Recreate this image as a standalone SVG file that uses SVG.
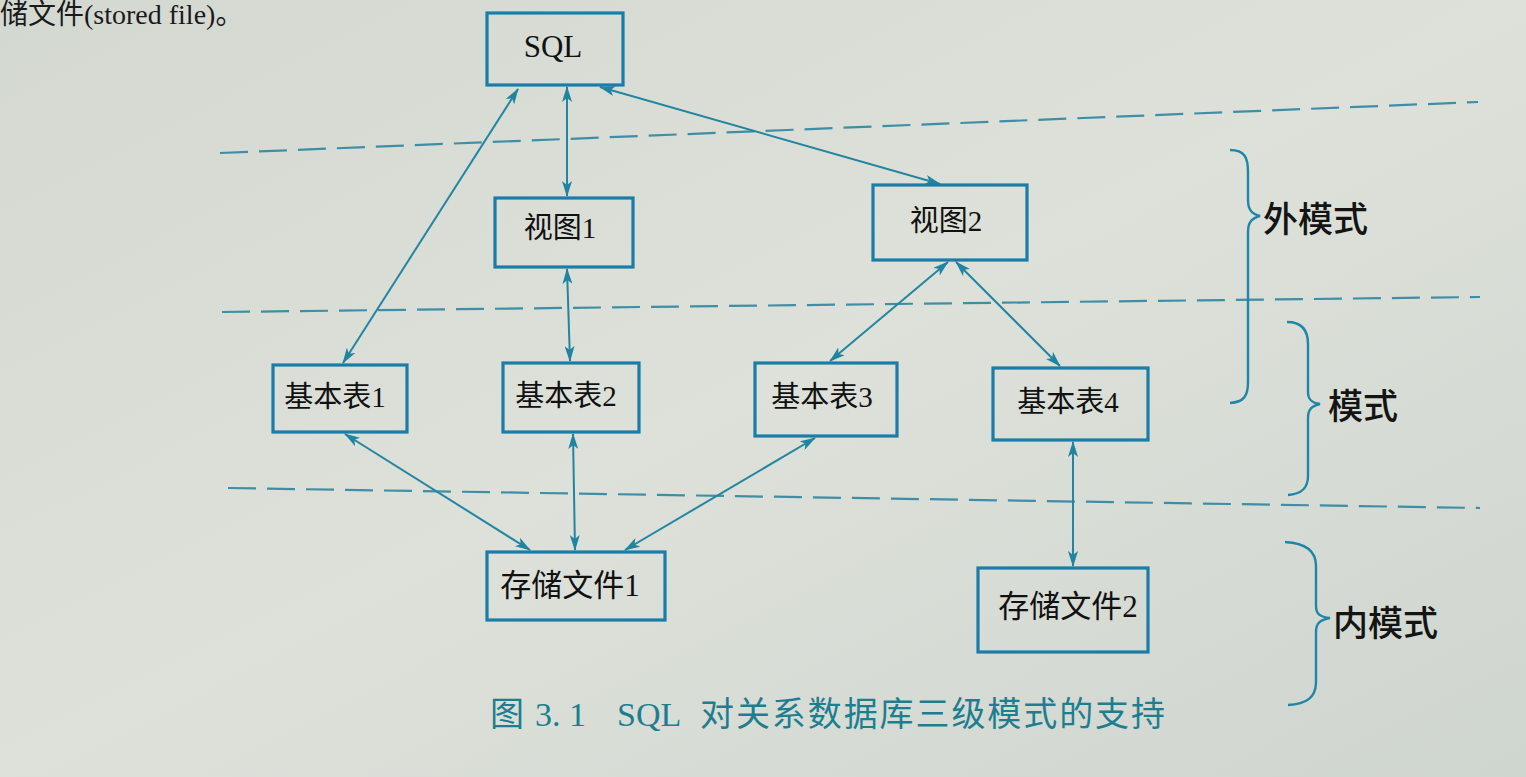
<svg xmlns="http://www.w3.org/2000/svg" width="1526" height="777" viewBox="0 0 1526 777">
<defs>
<linearGradient id="bg" x1="0" y1="0" x2="1" y2="1">
<stop offset="0" stop-color="#d3d8d1"/>
<stop offset="0.5" stop-color="#dde1da"/>
<stop offset="1" stop-color="#cfd5cf"/>
</linearGradient>
<marker id="ah" viewBox="0 0 16 10" refX="15" refY="5" markerWidth="16" markerHeight="10" markerUnits="userSpaceOnUse" orient="auto-start-reverse">
<path d="M0,0 L16,5 L0,10 L4,5 Z" fill="#1f84a0"/>
</marker>
<style>
.box{fill:none;stroke:#1a7ca8;stroke-width:3.2}
.nt{font-family:"Liberation Serif","Noto Sans CJK SC",serif;font-size:29px;fill:#111;text-anchor:middle;dominant-baseline:central}
.cn{stroke:#2385a0;stroke-width:2;fill:none;marker-start:url(#ah);marker-end:url(#ah)}
.dash{stroke:#3f8ea6;stroke-width:2.2;stroke-dasharray:28 11;fill:none}
.brace{stroke:#1f86a8;stroke-width:2.4;fill:none}
.lbl{font-family:"Noto Sans CJK SC",sans-serif;font-size:35px;font-weight:500;fill:#141414;dominant-baseline:central}
.cap{font-family:"Liberation Serif","Noto Sans CJK SC",serif;font-size:34px;fill:#1d7e90}
</style>
</defs>
<rect x="0" y="0" width="1526" height="777" fill="url(#bg)"/>
<text x="0" y="24" style="font-family:'Liberation Serif','Noto Sans CJK SC',serif;font-size:28px;fill:#1a1a1a">储文件(stored file)。</text>

<g id="levels">
<line class="dash" x1="220" y1="153" x2="1478" y2="102"/>
<line class="dash" x1="222" y1="312" x2="1480" y2="297"/>
<line class="dash" x1="228" y1="488" x2="1480" y2="508"/>
</g>

<g id="connectors">
<line class="cn" x1="518" y1="89" x2="343" y2="363"/>
<line class="cn" x1="567" y1="87" x2="567" y2="196"/>
<line class="cn" x1="600" y1="87" x2="940" y2="184"/>
<line class="cn" x1="567" y1="269" x2="570" y2="361"/>
<line class="cn" x1="948" y1="262" x2="830" y2="361"/>
<line class="cn" x1="956" y1="262" x2="1060" y2="366"/>
<line class="cn" x1="345" y1="434" x2="530" y2="550"/>
<line class="cn" x1="573" y1="434" x2="575" y2="550"/>
<line class="cn" x1="815" y1="438" x2="625" y2="550"/>
<line class="cn" x1="1073" y1="442" x2="1073" y2="566"/>
</g>

<g id="sql"><rect class="box" x="487" y="13" width="136" height="72"/><text class="nt" x="553" y="46" style="font-size:31px">SQL</text></g>
<g id="view1"><rect class="box" x="495" y="198" width="138" height="69"/><text class="nt" x="560" y="228">视图1</text></g>
<g id="view2"><rect class="box" x="873" y="185" width="154" height="75"/><text class="nt" x="946" y="221">视图2</text></g>
<g id="table1"><rect class="box" x="273" y="365" width="134" height="67"/><text class="nt" x="335" y="397">基本表1</text></g>
<g id="table2"><rect class="box" x="503" y="363" width="136" height="69"/><text class="nt" x="566" y="396">基本表2</text></g>
<g id="table3"><rect class="box" x="755" y="363" width="142" height="73"/><text class="nt" x="822" y="397">基本表3</text></g>
<g id="table4"><rect class="box" x="993" y="368" width="155" height="72"/><text class="nt" x="1068" y="402">基本表4</text></g>
<g id="file1"><rect class="box" x="487" y="552" width="178" height="68"/><text class="nt" x="570" y="585" style="font-size:31px">存储文件1</text></g>
<g id="file2"><rect class="box" x="978" y="568" width="170" height="84"/><text class="nt" x="1068" y="606" style="font-size:31px">存储文件2</text></g>

<g id="brace-external">
<path class="brace" d="M1230,150 C1245,150 1248,158 1248,172 L1248,200 C1248,210 1252,214 1260,216 C1252,218 1248,222 1248,232 L1248,382 C1248,396 1244,402 1230,403"/>
<text class="lbl" x="1263" y="216">外模式</text>
</g>
<g id="brace-conceptual">
<path class="brace" d="M1287,322 C1302,322 1308,330 1308,344 L1308,392 C1308,400 1312,403 1320,404 C1312,406 1308,409 1308,418 L1308,476 C1308,488 1302,494 1288,495"/>
<text class="lbl" x="1328" y="403">模式</text>
</g>
<g id="brace-internal">
<path class="brace" d="M1285,542 C1305,543 1316,550 1316,566 L1316,606 C1316,614 1320,617 1330,618 C1320,620 1316,623 1316,632 L1316,682 C1316,698 1306,704 1288,705"/>
<text class="lbl" x="1333" y="620">内模式</text>
</g>

<text class="cap" y="726"><tspan x="490">图</tspan><tspan x="535">3. 1</tspan><tspan x="617">SQL</tspan><tspan x="700" textLength="465" lengthAdjust="spacing">对关系数据库三级模式的支持</tspan></text>
</svg>
